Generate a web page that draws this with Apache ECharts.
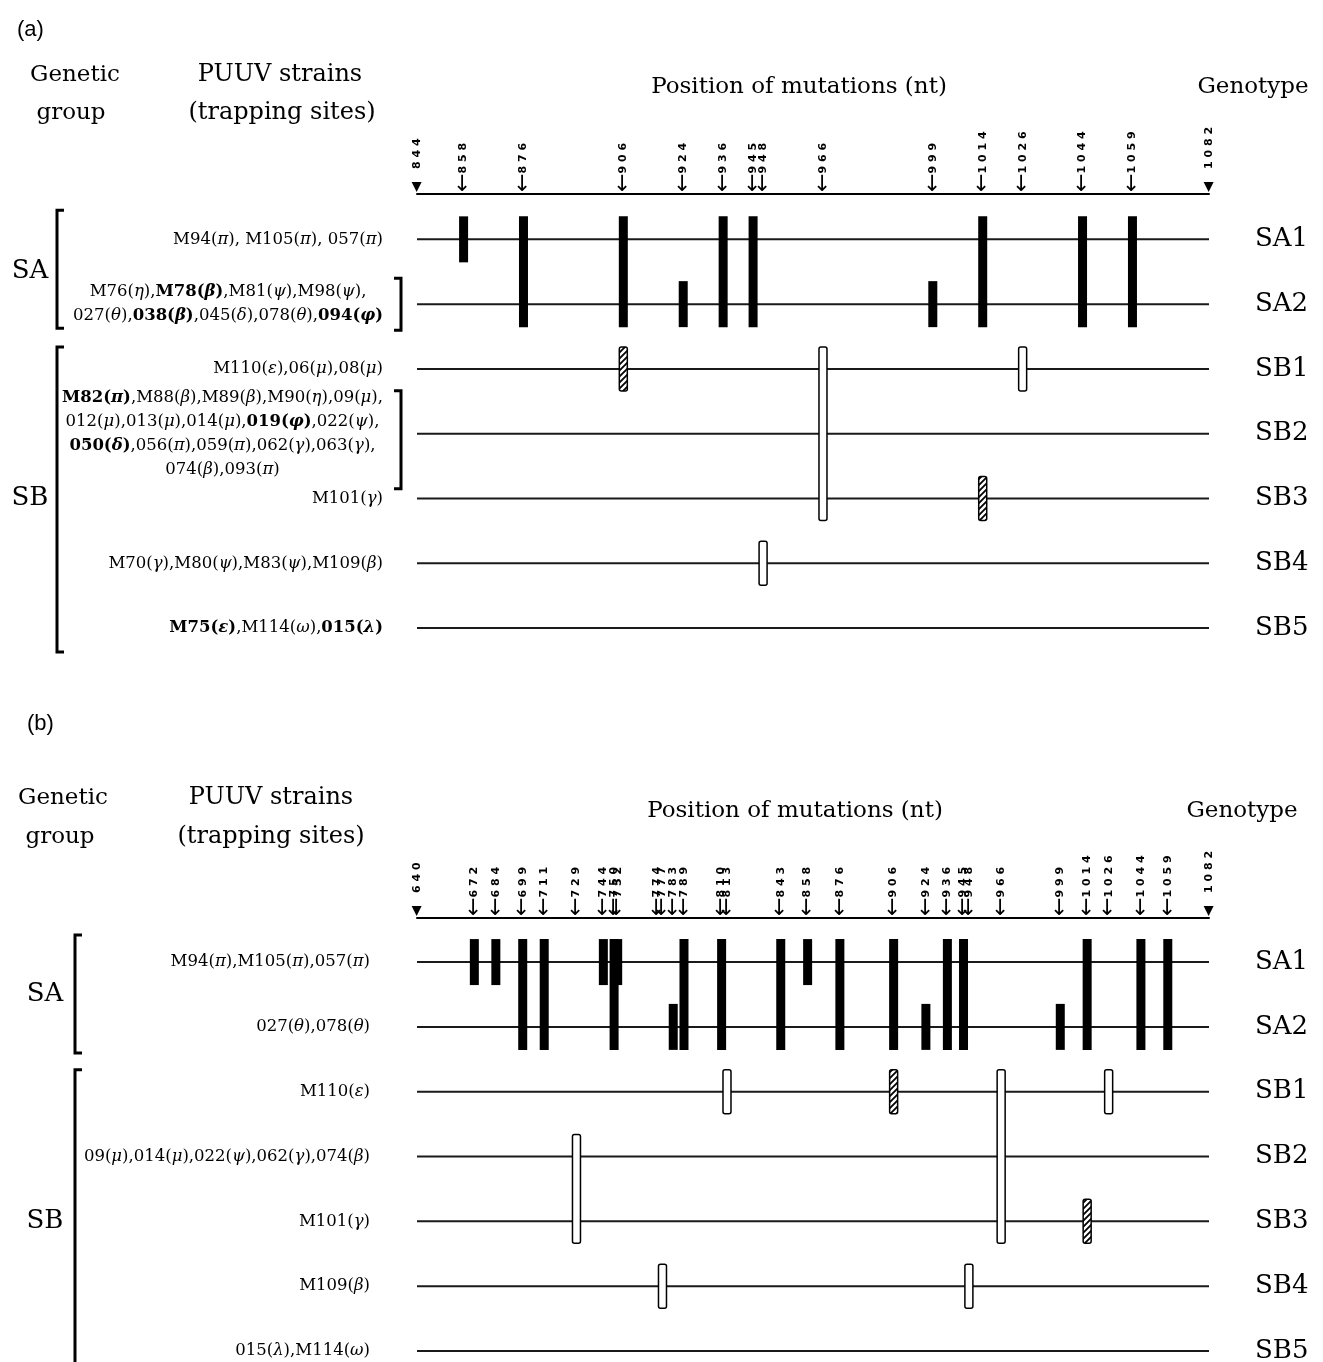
<!DOCTYPE html>
<html><head><meta charset="utf-8">
<script src="https://cdn.jsdelivr.net/npm/echarts@6/dist/echarts.min.js"></script>
<style>html,body{margin:0;padding:0;background:#fff}#c{width:1323px;height:1362px}</style>
</head><body><div id="c"></div>
<script>
// ---------------- data ----------------
const genotypes = ['SA1', 'SA2', 'SB1', 'SB2', 'SB3', 'SB4', 'SB5'];

const ticksA = [844, 858, 876, 906, 924, 936, 945, 948, 966, 999, 1014, 1026, 1044, 1059, 1082];
const ticksB = [640, 672, 684, 699, 711, 729, 744, 750, 752, 774, 777, 783, 789, 810, 813, 843, 858, 876, 906, 924, 936, 945, 948, 966, 999, 1014, 1026, 1044, 1059, 1082];

// strain labels (** = bold, Greek letters italic)
const strainsA = [
  'M94(π), M105(π), 057(π)',
  'M76(η),**M78(β)**,M81(ψ),M98(ψ),\n027(θ),**038(β)**,045(δ),078(θ),**094(φ)**',
  'M110(ε),06(μ),08(μ)',
  '**M82(π)**,M88(β),M89(β),M90(η),09(μ),\n012(μ),013(μ),014(μ),**019(φ)**,022(ψ),\n**050(δ)**,056(π),059(π),062(γ),063(γ),\n074(β),093(π)',
  'M101(γ)',
  'M70(γ),M80(ψ),M83(ψ),M109(β)',
  '**M75(ε)**,M114(ω),**015(λ)**'
];
const strainsB = [
  'M94(π),M105(π),057(π)',
  '027(θ),078(θ)',
  'M110(ε)',
  '09(μ),014(μ),022(ψ),062(γ),074(β)',
  'M101(γ)',
  'M109(β)',
  '015(λ),M114(ω)'
];

// mutations: [position (nt), first genotype row, last genotype row]
const solidA = [[858,0,0],[876,0,1],[906,0,1],[924,1,1],[936,0,1],[945,0,1],[999,1,1],[1014,0,1],[1044,0,1],[1059,0,1]];
const openA  = [[966,2,4],[1026,2,2],[948,5,5]];
const hatchA = [[906,2,2],[1014,4,4]];

const solidB = [[672,0,0],[684,0,0],[699,0,1],[711,0,1],[744,0,0],[750,0,1],[752,0,0],[783,1,1],[789,0,1],[810,0,1],[843,0,1],[858,0,0],[876,0,1],[906,0,1],[924,1,1],[936,0,1],[945,0,1],[999,1,1],[1014,0,1],[1044,0,1],[1059,0,1]];
const openB  = [[813,2,2],[966,2,4],[1026,2,2],[729,3,4],[777,5,5],[948,5,5]];
const hatchB = [[906,2,2],[1014,4,4]];

// ---------------- helpers ----------------
const SERIF = '"DejaVu Serif", "Liberation Serif", serif';
const SANS = '"DejaVu Sans", "Liberation Sans", sans-serif';

function toRich(str) {
  return str.split('\n').map(line => {
    let out = '';
    line.split('**').forEach((p, k) => {
      const bold = k % 2 === 1;
      p.split(/([\u0370-\u03FF])/).forEach(s => {
        if (!s) return;
        const greek = /[\u0370-\u03FF]/.test(s);
        out += '{' + (bold ? 'b' : 'n') + (greek ? 'i' : '') + '|' + s + '}';
      });
    });
    return out;
  }).join('\n');
}
const FS = 16.5;
const strainRich = {
  n:  {fontFamily: SERIF, fontSize: FS, color: '#000', lineHeight: 24, align: 'center'},
  ni: {fontFamily: SERIF, fontSize: FS, fontStyle: 'italic', color: '#000', lineHeight: 24, align: 'center'},
  b:  {fontFamily: SERIF, fontSize: FS, fontWeight: 'bold', color: '#000', lineHeight: 24, align: 'center'},
  bi: {fontFamily: SERIF, fontSize: FS, fontWeight: 'bold', fontStyle: 'italic', color: '#000', lineHeight: 24, align: 'center'}
};

const hc = document.createElement('canvas'); hc.width = 6; hc.height = 6;
const hg = hc.getContext('2d');
hg.fillStyle = '#fff'; hg.fillRect(0, 0, 6, 6);
hg.strokeStyle = '#000'; hg.lineWidth = 1.8; hg.beginPath();
hg.moveTo(-1, 7); hg.lineTo(7, -1); hg.moveTo(-1, 1); hg.lineTo(1, -1); hg.moveTo(5, 7); hg.lineTo(7, 5);
hg.stroke();
const hatchFill = {image: hc, repeat: 'repeat'};

function xAxisCfg(gi, ticks) {
  const lo = ticks[0], hi = ticks[ticks.length - 1];
  return {
    type: 'value', gridIndex: gi, position: 'top', min: lo, max: hi,
    axisLine: {show: true, onZero: false, lineStyle: {color: '#000', width: 2}},
    axisTick: {show: false}, splitLine: {show: false},
    axisLabel: {
      show: true, customValues: ticks, rotate: -90, margin: 2, color: '#000',
      formatter: v => {
        const s = String(v).split('').join(' ');
        if (v === lo || v === hi) return '{tri|◀}{sp|}{num|' + s + '}';
        return '{arr|←}{num|' + s + '}';
      },
      rich: {
        tri: {fontSize: 13, fontFamily: SANS, color: '#000', verticalAlign: 'middle'},
        sp: {width: 13},
        arr: {fontSize: 22, fontFamily: SANS, color: '#000', verticalAlign: 'middle'},
        num: {fontSize: 11, fontWeight: 'bold', fontFamily: SANS, color: '#000', verticalAlign: 'middle'}
      }
    }
  };
}
function yLeftCfg(gi, min, max, strains, margin) {
  return {
    type: 'value', gridIndex: gi, inverse: true, min: min, max: max, position: 'left',
    axisLine: {show: false}, axisTick: {show: false}, splitLine: {show: false},
    axisLabel: {show: true, customValues: [0, 1, 2, 3, 4, 5, 6], margin: margin,
      formatter: v => toRich(strains[v]), rich: strainRich}
  };
}
function yRightCfg(gi, min, max) {
  return {
    type: 'value', gridIndex: gi, inverse: true, min: min, max: max, position: 'right',
    axisLine: {show: false}, axisTick: {show: false}, splitLine: {show: false},
    axisLabel: {show: true, customValues: [0, 1, 2, 3, 4, 5, 6], margin: 46,
      formatter: v => genotypes[v], color: '#000', fontFamily: SERIF, fontSize: 26}
  };
}
function rowSeries(xi, yi, ticks) {
  const lo = ticks[0], hi = ticks[ticks.length - 1];
  return {
    type: 'custom', xAxisIndex: xi, yAxisIndex: yi, silent: true,
    data: genotypes.map((g, i) => [i]), encode: {y: 0},
    renderItem: (params, api) => {
      const r = api.value(0);
      const p1 = api.coord([lo, r]), p2 = api.coord([hi, r]);
      return {type: 'line', shape: {x1: p1[0], y1: p1[1], x2: p2[0], y2: p2[1]},
        style: {stroke: '#1a1a1a', lineWidth: 2}};
    }, z: 2
  };
}
function barSeries(xi, yi, data, kind) {
  return {
    type: 'custom', xAxisIndex: xi, yAxisIndex: yi, silent: true,
    data: data, encode: {x: 0, y: [1, 2]},
    renderItem: (params, api) => {
      const p1 = api.coord([api.value(0), api.value(1)]);
      const p2 = api.coord([api.value(0), api.value(2)]);
      const w = kind === 'solid' ? 9 : 8;
      const ext = kind === 'solid' ? 23 : 22;
      const y0 = p1[1] - ext, y1 = p2[1] + ext;
      let style;
      if (kind === 'solid') style = {fill: '#000'};
      else if (kind === 'open') style = {fill: '#fff', stroke: '#000', lineWidth: 1.5};
      else style = {fill: hatchFill, stroke: '#000', lineWidth: 1.5};
      return {type: 'rect', shape: {x: p1[0] - w / 2, y: y0, width: w, height: y1 - y0, r: kind === 'solid' ? 0 : 2}, style: style};
    }, z: 3
  };
}

// ---------------- chart ----------------
const chart = echarts.init(document.getElementById('c'), null, {renderer: 'canvas', width: 1323, height: 1362});
const option = {
  animation: false,
  backgroundColor: '#fff',
  grid: [
    {left: 417, right: 114, top: 194, height: 460, containLabel: false, outerBoundsMode: 'none'},
    {left: 417, right: 114, top: 918, height: 444, containLabel: false, outerBoundsMode: 'none'}
  ],
  xAxis: [xAxisCfg(0, ticksA), xAxisCfg(1, ticksB)],
  yAxis: [
    yLeftCfg(0, -0.7, 6.4, strainsA, 34), yRightCfg(0, -0.7, 6.4),
    yLeftCfg(1, -0.68, 6.17, strainsB, 47), yRightCfg(1, -0.68, 6.17)
  ],
  series: [
    rowSeries(0, 0, ticksA), barSeries(0, 0, solidA, 'solid'), barSeries(0, 0, openA, 'open'), barSeries(0, 0, hatchA, 'hatch'),
    rowSeries(1, 2, ticksB), barSeries(1, 2, solidB, 'solid'), barSeries(1, 2, openB, 'open'), barSeries(1, 2, hatchB, 'hatch')
  ]
};
chart.setOption(option);

// ---------------- annotations ----------------
function rowY(xi, yi, x, r) { return chart.convertToPixel({xAxisIndex: xi, yAxisIndex: yi}, [x, r])[1]; }
function txt(t, x, y, size, fam, align) {
  return {type: 'text', silent: true, style: {text: t, x: x, y: y, font: size + 'px ' + fam, fill: '#000',
    textAlign: align || 'center', align: align || 'center', textVerticalAlign: 'middle', verticalAlign: 'middle'}};
}
function bracket(x, y0, y1, dir) {
  return {type: 'polyline', silent: true, shape: {points: [[x + 7 * dir, y0], [x, y0], [x, y1], [x + 7 * dir, y1]]},
    style: {stroke: '#000', lineWidth: 3, fill: null}};
}
const a = r => rowY(0, 0, ticksA[0], r);
const b = r => rowY(1, 2, ticksB[0], r);
const graphics = [
  txt('(a)', 17, 30, 22, '"Liberation Sans", Arial, sans-serif', 'left'),
  txt('Genetic', 75, 75, 23, SERIF), txt('group', 71, 113, 23, SERIF),
  txt('PUUV strains', 280, 75, 24, SERIF), txt('(trapping sites)', 282, 113, 24, SERIF),
  txt('Position of mutations (nt)', 799, 87, 23, SERIF),
  txt('Genotype', 1253, 87, 23, SERIF),
  txt('SA', 30, (a(0) + a(1)) / 2, 26, SERIF), txt('SB', 30, a(4), 26, SERIF),
  bracket(57, a(0) - 29, a(1) + 24, 1), bracket(57, a(2) - 22, a(6) + 24, 1),
  bracket(401, a(1) - 26, a(1) + 26, -1), bracket(401, a(3) - 43, a(3) + 55, -1),

  txt('(b)', 27, 724, 22, '"Liberation Sans", Arial, sans-serif', 'left'),
  txt('Genetic', 63, 798, 23, SERIF), txt('group', 60, 837, 23, SERIF),
  txt('PUUV strains', 271, 798, 24, SERIF), txt('(trapping sites)', 271, 837, 24, SERIF),
  txt('Position of mutations (nt)', 795, 811, 23, SERIF),
  txt('Genotype', 1242, 811, 23, SERIF),
  txt('SA', 45, (b(0) + b(1)) / 2, 26, SERIF), txt('SB', 45, b(4), 26, SERIF),
  bracket(75, b(0) - 27, b(1) + 26, 1), bracket(75, b(2) - 22, b(6) + 40, 1)
];
chart.setOption({graphic: graphics});
</script>
</body></html>
